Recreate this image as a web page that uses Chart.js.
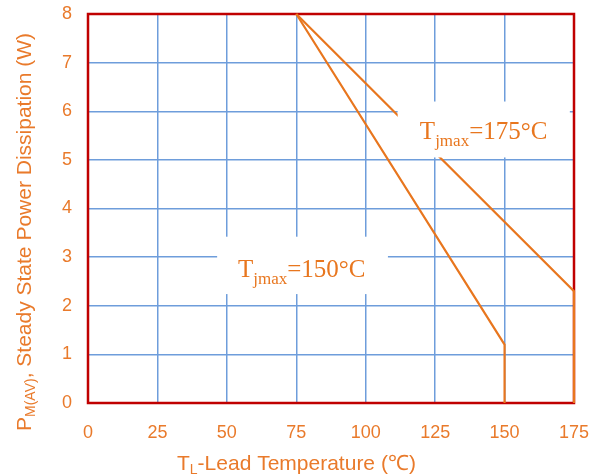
<!DOCTYPE html>
<html>
<head>
<meta charset="utf-8">
<script src="https://cdn.jsdelivr.net/npm/chart.js@4"></script>
<style>
  html, body { margin: 0; padding: 0; background: #fff; }
  #wrap { width: 595px; height: 475px; }
</style>
</head>
<body>
<div id="wrap"><canvas id="chart" width="595" height="475"></canvas></div>
<script>
// Dados
const xTicks = [0, 25, 50, 75, 100, 125, 150, 175];
const yTicks = [0, 1, 2, 3, 4, 5, 6, 7, 8];

const temp150 = [75, 150, 150];
const power150 = [8, 1.2, 0];

const temp175 = [75, 175, 175];
const power175 = [8, 2.3, 0];

const orange = '#E8761E';
const textOrange = '#E97A2B';
const gridBlue = '#6E9DDB';
const frameRed = '#C00000';

// caixas brancas dos rótulos (em unidades do gráfico)
const labels = [
  { main: 'T', sub: 'jmax', rest: '=175°C', box: [111.5, 6.2, 173.5, 5.05], at: [119.5, 5.42] },
  { main: 'T', sub: 'jmax', rest: '=150°C', box: [46.5, 3.42, 108, 2.24], at: [54, 2.6] }
];

function toPoints(xs, ys) {
  return xs.map((x, i) => ({ x: x, y: ys[i] }));
}

const framePlugin = {
  id: 'frame',
  beforeDatasetsDraw(chart) {
    const a = chart.chartArea;
    const ctx = chart.ctx;
    ctx.save();
    ctx.strokeStyle = frameRed;
    ctx.lineWidth = 2.5;
    ctx.strokeRect(a.left, a.top, a.right - a.left, a.bottom - a.top);
    ctx.restore();
  },
  afterDatasetsDraw(chart) {
    const ctx = chart.ctx;
    const xs = chart.scales.x, ys = chart.scales.y;
    ctx.save();
    for (let l of labels) {
      const x1 = xs.getPixelForValue(l.box[0]), y1 = ys.getPixelForValue(l.box[1]);
      const x2 = xs.getPixelForValue(l.box[2]), y2 = ys.getPixelForValue(l.box[3]);
      ctx.fillStyle = '#fff';
      ctx.fillRect(x1, y1, x2 - x1, y2 - y1);

      let tx = xs.getPixelForValue(l.at[0]);
      const ty = ys.getPixelForValue(l.at[1]);
      ctx.fillStyle = orange;
      ctx.textBaseline = 'alphabetic';
      ctx.textAlign = 'left';
      ctx.font = '25px "Liberation Serif"';
      ctx.fillText(l.main, tx, ty);
      tx += ctx.measureText(l.main).width;
      ctx.font = '17px "Liberation Serif"';
      ctx.fillText(l.sub, tx, ty + 7);
      tx += ctx.measureText(l.sub).width;
      ctx.font = '25px "Liberation Serif"';
      ctx.fillText(l.rest, tx, ty);
    }
    ctx.restore();
  },
  afterDraw(chart) {
    // títulos dos eixos com subscrito
    const ctx = chart.ctx;
    ctx.save();
    ctx.fillStyle = textOrange;
    ctx.textBaseline = 'alphabetic';
    ctx.textAlign = 'left';

    // eixo x
    let x = 177, y = 470;
    ctx.font = '21px "Liberation Sans"';
    ctx.fillText('T', x, y);
    x += ctx.measureText('T').width;
    ctx.font = '14px "Liberation Sans"';
    ctx.fillText('L', x, y + 4);
    x += ctx.measureText('L').width;
    ctx.font = '21px "Liberation Sans"';
    ctx.fillText('-Lead Temperature (℃)', x, y);

    // eixo y (rotacionado)
    ctx.translate(31, 431);
    ctx.rotate(-Math.PI / 2);
    x = 0;
    ctx.font = '21px "Liberation Sans"';
    ctx.fillText('P', x, 0);
    x += ctx.measureText('P').width;
    ctx.font = '14px "Liberation Sans"';
    ctx.fillText('M(AV)', x, 4);
    x += ctx.measureText('M(AV)').width;
    ctx.font = '21px "Liberation Sans"';
    ctx.fillText(', Steady State Power Dissipation (W)', x, 0);
    ctx.restore();
  }
};

var ctx = document.getElementById('chart').getContext('2d');
var chart = new Chart(ctx, {
  type: 'scatter',
  data: {
    datasets: [{
      label: 'Tjmax=150°C',
      data: toPoints(temp150, power150),
      showLine: true,
      borderColor: orange,
      borderWidth: 2.2,
      pointRadius: 0,
      clip: false,
      tension: 0
    }, {
      label: 'Tjmax=175°C',
      data: toPoints(temp175, power175),
      showLine: true,
      borderColor: orange,
      borderWidth: 2.2,
      pointRadius: 0,
      clip: false,
      tension: 0
    }]
  },
  options: {
    responsive: false,
    animation: false,
    layout: { padding: { top: 14, right: 21, left: 0, bottom: 0 } },
    plugins: {
      legend: { display: false },
      tooltip: { enabled: false }
    },
    scales: {
      x: {
        type: 'linear',
        min: 0,
        max: 175,
        afterBuildTicks: s => { s.ticks = xTicks.map(v => ({ value: v })); },
        afterFit: s => { s.height = 72; s.paddingLeft = 0; s.paddingRight = 0; },
        grid: { color: gridBlue, lineWidth: 1.5, drawTicks: false },
        border: { display: false },
        ticks: { color: textOrange, padding: 19, maxRotation: 0, font: { family: 'Liberation Sans', size: 18 } }
      },
      y: {
        min: 0,
        max: 8,
        afterBuildTicks: s => { s.ticks = yTicks.map(v => ({ value: v })); },
        afterFit: s => { s.width = 88; s.paddingTop = 0; s.paddingBottom = 0; },
        grid: { color: gridBlue, lineWidth: 1.5, drawTicks: false },
        border: { display: false },
        ticks: { color: textOrange, padding: 16, font: { family: 'Liberation Sans', size: 18 } }
      }
    }
  },
  plugins: [framePlugin]
});
</script>
</body>
</html>
